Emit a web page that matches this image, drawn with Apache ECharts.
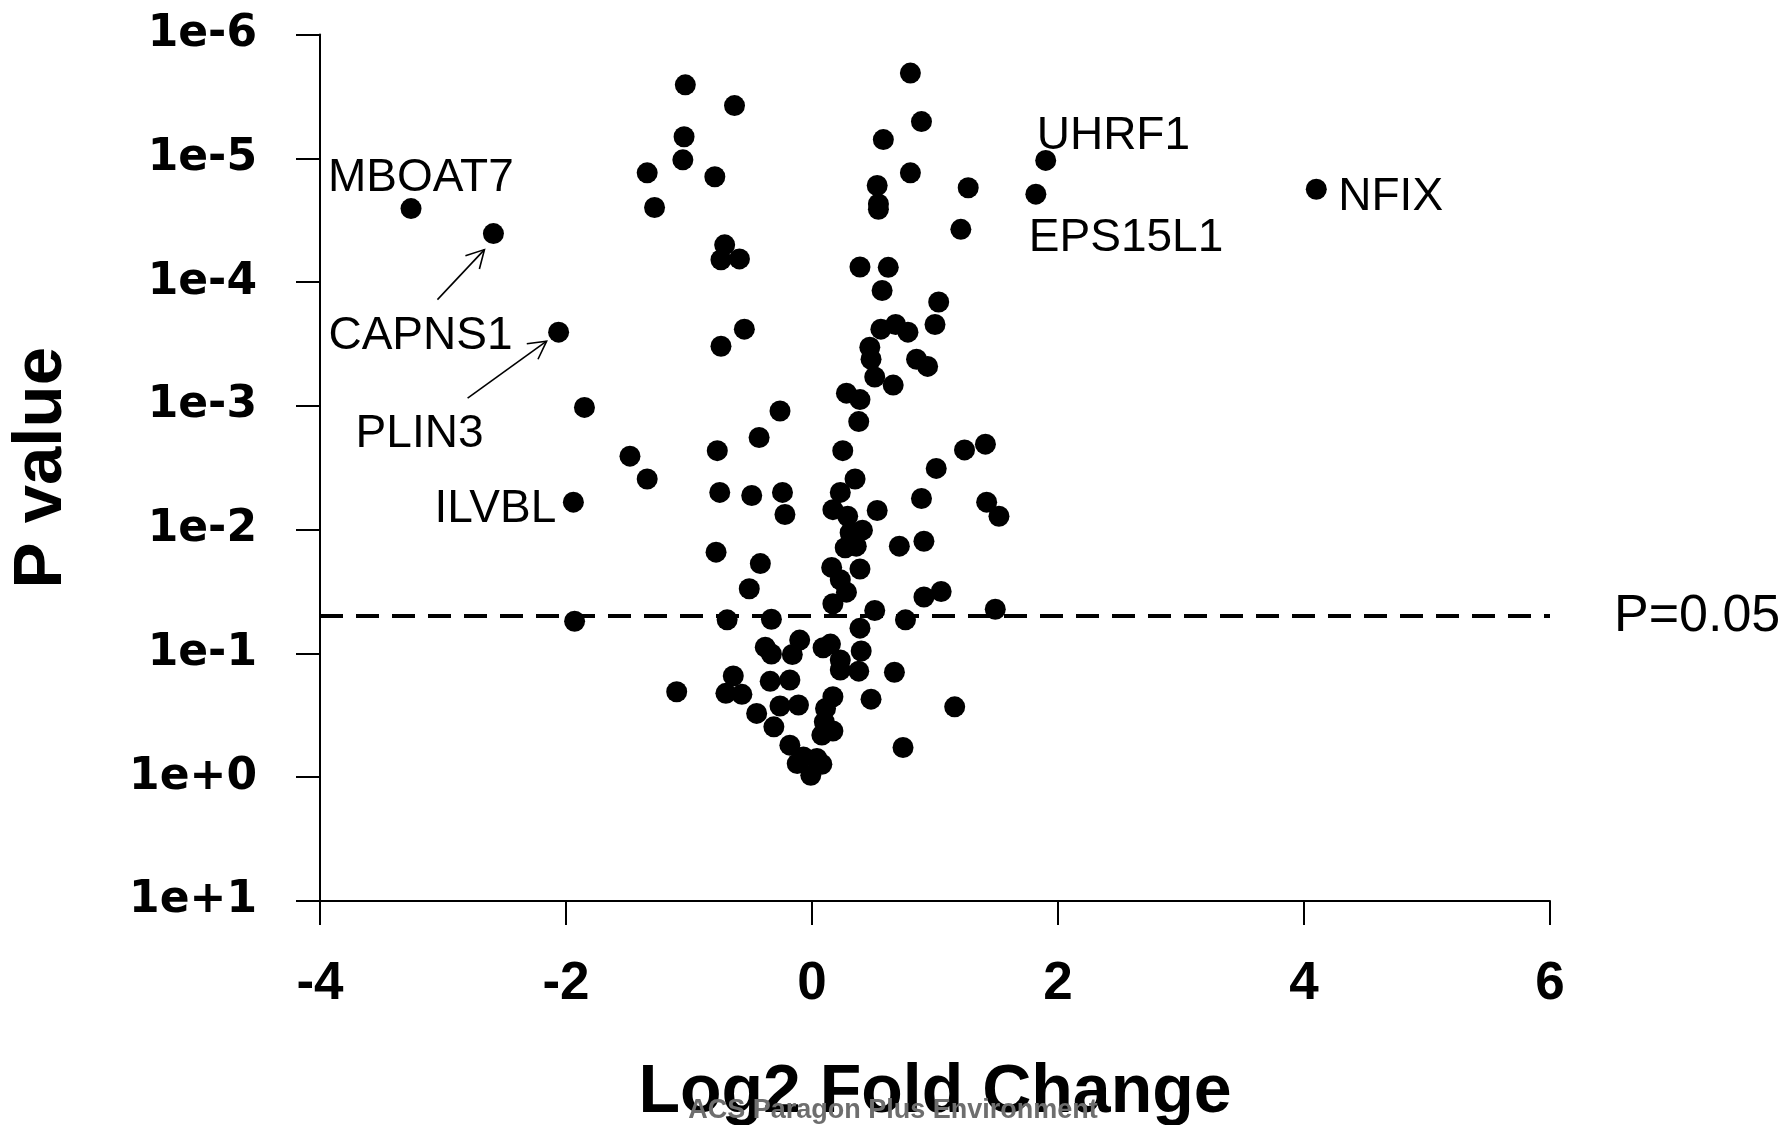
<!DOCTYPE html>
<html>
<head>
<meta charset="utf-8">
<script src="https://cdn.jsdelivr.net/npm/echarts@6/dist/echarts.min.js"></script>
<style>
html, body { margin: 0; padding: 0; background: #fff; }
#chart { width: 1787px; height: 1125px; }
</style>
</head>
<body>
<div id="chart"></div>
<script>
// labelled genes
var labeledGenes = ['MBOAT7', 'CAPNS1', 'PLIN3', 'ILVBL', 'UHRF1', 'EPS15L1', 'NFIX'];
var labeledFC = [-3.26, -2.59, -2.06, -1.94, 1.90, 1.82, 4.10];
var labeledP = [2.55e-5, 4.06e-5, 2.54e-4, 6.0e-3, 1.04e-5, 1.95e-5, 1.78e-5];

// all other proteins (log2 fold change, p value)
var otherFC = [
	-1.85, -1.93, -1.48, -1.34, -1.34, -1.28, -1.03, -0.63, -1.04, -1.05,
	-0.79, -0.71, -0.74, -0.59, -0.55, -0.74, -0.77, -0.75, -0.78, -0.69,
	-0.64, -0.70, -0.57, -1.10, -0.51, -0.42, -0.49, -0.43, -0.26, -0.24,
	-0.22, -0.33, -0.10, -0.38, -0.33, -0.16, -0.34, -0.18, -0.26, -0.11,
	-0.45, -0.31, -0.18, -0.07, 0.04, -0.12, 0.08, -0.01, 0.09, 0.15,
	0.40, 0.23, 0.23, 0.38, 0.67, 0.17, 0.11, 0.10, 0.17, 0.08,
	0.48, 1.16, 0.74, 0.39, 0.76, 0.51, 0.17, 0.28, 0.23, 0.16,
	0.39, 0.27, 0.36, 0.31, 0.41, 0.71, 0.91, 1.05, 0.91, 1.49,
	0.17, 0.29, 0.53, 0.23, 0.35, 0.25, 0.38, 0.28, 0.39, 0.51,
	0.66, 0.89, 1.01, 1.24, 1.41, 1.42, 1.52, 0.47, 0.48, 0.85,
	0.94, 0.56, 0.68, 0.78, 1.00, 1.03, 0.57, 0.39, 0.62, 1.21,
	1.27, 0.53, 0.54, 0.54, 0.80, 0.58, 0.89, 0.80
];
var otherP = [
	1.03e-3, 5.5e-2, 2.55e-3, 3.9e-3, 1.31e-5, 2.5e-5, 2.55e-6, 3.75e-6, 6.7e-6, 1.03e-5,
	1.41e-5, 5.0e-5, 6.6e-5, 6.5e-5, 2.4e-4, 3.3e-4, 2.3e-3, 5.0e-3, 1.52e-2, 5.35e-2,
	0.152, 0.210, 0.214, 0.204, 3.0e-2, 1.88e-2, 5.3e-3, 1.8e-3, 1.1e-3, 5.0e-3,
	7.55e-3, 5.3e-2, 7.8e-2, 8.9e-2, 0.101, 0.102, 0.168, 0.164, 0.266, 0.261,
	0.305, 0.392, 0.551, 0.686, 0.706, 0.776, 0.786, 0.966, 9.0e-2, 8.4e-2,
	9.55e-2, 0.113, 0.136, 0.139, 0.142, 0.224, 0.278, 0.357, 0.423, 0.457,
	0.234, 0.270, 0.575, 6.25e-2, 5.35e-2, 4.5e-2, 3.97e-2, 3.2e-2, 2.54e-2, 2.02e-2,
	2.08e-2, 1.40e-2, 1.36e-2, 1.06e-2, 1.01e-2, 1.36e-2, 1.24e-2, 3.16e-2, 3.5e-2, 4.4e-2,
	6.9e-3, 7.8e-3, 7.0e-3, 5.0e-3, 3.9e-3, 2.3e-3, 1.34e-3, 7.9e-4, 8.9e-4, 5.85e-4,
	6.8e-4, 5.6e-3, 3.2e-3, 2.27e-3, 2.04e-3, 6.0e-3, 7.8e-3, 3.36e-4, 4.2e-4, 4.2e-4,
	4.8e-4, 2.4e-4, 2.2e-4, 2.54e-4, 2.2e-4, 1.45e-4, 1.17e-4, 7.55e-5, 7.6e-5, 3.75e-5,
	1.73e-5, 1.66e-5, 2.34e-5, 2.58e-5, 1.31e-5, 7.06e-6, 5.05e-6, 2.05e-6
];

var pCutoff = 0.05;
var cutoffLabel = 'P=0.05';
var watermark = 'ACS Paragon Plus Environment';

// where each gene label sits, in pixels from its point
var labelOffsets = {
	MBOAT7: [-83, -30],
	CAPNS1: [-165, 103],
	PLIN3: [-203, 102],
	ILVBL: [-139, 7],
	UHRF1: [-9, -24],
	EPS15L1: [-7, 44],
	NFIX: [22, 8]
};
// arrows from label to point: [start offset, tip offset]
var arrowOffsets = {
	CAPNS1: [[-56, 66], [-9, 16]],
	PLIN3: [[-91, 66], [-12, 9]]
};

var font = "'Liberation Sans', Arial, Helvetica, sans-serif";

var chart = echarts.init(document.getElementById('chart'));

var otherData = [];
for (var i = 0; i < otherFC.length; i++) {
	otherData.push([otherFC[i], otherP[i]]);
}
var labeledData = [];
for (var j = 0; j < labeledGenes.length; j++) {
	labeledData.push({
		name : labeledGenes[j],
		value : [labeledFC[j], labeledP[j]],
		label : { offset : labelOffsets[labeledGenes[j]] }
	});
}

var option = {
	animation : false,
	backgroundColor : '#fff',
	grid : {
		left : 320,
		right : 237,
		top : 34.5,
		bottom : 224,
		containLabel : false,
		outerBoundsMode : 'none'
	},
	xAxis : {
		type : 'value',
		min : -4,
		max : 6,
		interval : 2,
		name : 'Log2 Fold Change',
		nameLocation : 'middle',
		nameGap : 158,
		nameTextStyle : {
			fontSize : 68,
			fontWeight : 'bold',
			color : '#000',
			fontFamily : font
		},
		axisLine : {
			onZero : false,
			lineStyle : { color : '#000', width : 2 }
		},
		axisTick : {
			length : 24,
			lineStyle : { color : '#000', width : 2 }
		},
		axisLabel : {
			fontSize : 53,
			fontWeight : 'bold',
			color : '#000',
			fontFamily : font,
			margin : 57
		},
		splitLine : { show : false }
	},
	yAxis : {
		type : 'log',
		logBase : 10,
		min : 1e-6,
		max : 10,
		interval : 1,
		splitNumber : 7,
		inverse : true,
		name : 'P value',
		nameLocation : 'middle',
		nameGap : 244,
		nameTextStyle : {
			fontSize : 69,
			fontWeight : 'bold',
			color : '#000',
			fontFamily : font
		},
		axisLine : {
			show : true,
			onZero : false,
			lineStyle : { color : '#000', width : 2 }
		},
		axisTick : {
			show : true,
			length : 24,
			lineStyle : { color : '#000', width : 2 }
		},
		axisLabel : {
			fontSize : 44,
			fontWeight : 'bold',
			color : '#000',
			fontFamily : "'DejaVu Sans', sans-serif",
			margin : 63,
			padding : [ 9, 0, 0, 0 ],
			formatter : function(v) {
				var e = Math.round(Math.log10(v));
				return '1e' + (e >= 0 ? '+' : '') + e;
			}
		},
		splitLine : { show : false }
	},
	series : [ {
		type : 'scatter',
		symbol : 'circle',
		symbolSize : 21,
		itemStyle : { color : '#000', opacity : 1 },
		data : otherData,
		markLine : {
			silent : true,
			symbol : [ 'none', 'none' ],
			lineStyle : { color : '#000', width : 4, type : [ 23, 13 ], opacity : 1 },
			label : {
				show : true,
				position : 'end',
				distance : 64,
				formatter : cutoffLabel,
				fontSize : 52,
				color : '#000',
				fontFamily : font
			},
			data : [ { yAxis : pCutoff } ]
		}
	}, {
		type : 'scatter',
		symbol : 'circle',
		symbolSize : 21,
		itemStyle : { color : '#000', opacity : 1 },
		label : {
			show : true,
			formatter : '{b}',
			position : 'inside',
			align : 'left',
			verticalAlign : 'middle',
			fontSize : 46,
			color : '#000',
			fontFamily : font
		},
		data : labeledData
	} ]
};
chart.setOption(option);

// arrows and the page footer
var graphics = [];
for (var k = 0; k < labeledGenes.length; k++) {
	var a = arrowOffsets[labeledGenes[k]];
	if (!a) continue;
	var pt = chart.convertToPixel({ seriesIndex : 1 }, [ labeledFC[k], labeledP[k] ]);
	var x1 = pt[0] + a[0][0], y1 = pt[1] + a[0][1];
	var x2 = pt[0] + a[1][0], y2 = pt[1] + a[1][1];
	var ang = Math.atan2(y2 - y1, x2 - x1), len = 20, spread = 0.5;
	graphics.push({
		type : 'line',
		shape : { x1 : x1, y1 : y1, x2 : x2, y2 : y2 },
		style : { stroke : '#000', lineWidth : 1.6 }
	});
	graphics.push({
		type : 'polyline',
		shape : {
			points : [
				[ x2 - len * Math.cos(ang - spread), y2 - len * Math.sin(ang - spread) ],
				[ x2, y2 ],
				[ x2 - len * Math.cos(ang + spread), y2 - len * Math.sin(ang + spread) ] ]
		},
		style : { stroke : '#000', lineWidth : 1.6, fill : null }
	});
}
graphics.push({
	type : 'text',
	x : 893,
	y : 1111,
	z : 100,
	style : {
		text : watermark,
		fontSize : 27,
		fontWeight : 'bold',
		fontFamily : font,
		fill : '#6e6e6e',
		align : 'center',
		verticalAlign : 'middle'
	}
});
chart.setOption({ graphic : graphics });
</script>
</body>
</html>
